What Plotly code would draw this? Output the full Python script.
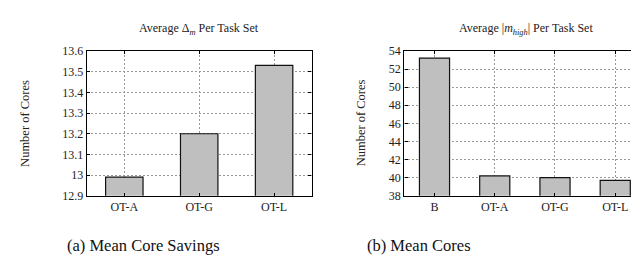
import plotly.graph_objects as go

cats_a = ["OT-A", "OT-G", "OT-L"]
vals_a = [12.99, 13.20, 13.53]
ticks_a = [12.9, 13.0, 13.1, 13.2, 13.3, 13.4, 13.5, 13.6]
ticklbl_a = ["12.9", "13", "13.1", "13.2", "13.3", "13.4", "13.5", "13.6"]

cats_b = ["B", "OT-A", "OT-G", "OT-L"]
vals_b = [53.2, 40.2, 40.0, 39.7]
ticks_b = [38, 40, 42, 44, 46, 48, 50, 52, 54]

W, H = 639, 262
def fx(px): return px / W
def fy(py): return 1 - py / H

SERIF = "Times New Roman, Liberation Serif, DejaVu Serif, serif"
tick_font = dict(family=SERIF, size=12, color="#222")
bar_style = dict(color="#bfbfbf", line=dict(color="#111", width=1.2))

fig = go.Figure()
fig.add_trace(go.Bar(x=cats_a, y=vals_a, marker=bar_style, width=0.5, xaxis="x", yaxis="y"))
fig.add_trace(go.Bar(x=cats_b, y=vals_b, marker=bar_style, width=0.5, xaxis="x2", yaxis="y2"))

grid = dict(showgrid=True, gridcolor="#999", griddash="2px,2px", gridwidth=0.8)
frame = dict(showline=True, linecolor="#000", linewidth=1.3, mirror="ticks", zeroline=False,
             ticks="inside", ticklen=3, tickcolor="#000", tickfont=tick_font)

fig.update_layout(
    width=W, height=H, margin=dict(l=0, r=0, t=0, b=0),
    font=dict(family=SERIF),
    paper_bgcolor="white", plot_bgcolor="white", showlegend=False, bargap=0.5,
    xaxis=dict(domain=[fx(79), fx(304)], anchor="y", range=[-0.5, 2.5], **grid, **frame),
    yaxis=dict(domain=[fy(191), fy(38)], anchor="x", range=[12.9, 13.6],
               tickvals=ticks_a, ticktext=ticklbl_a, **grid, **frame),
    xaxis2=dict(domain=[fx(397), 0.999], anchor="y2", range=[-0.5, 3.5], **grid, **frame),
    yaxis2=dict(domain=[fy(191), fy(38)], anchor="x2", range=[38, 54],
                tickvals=ticks_b, **grid, **frame),
)

def note(text, x, y, size, angle=0, color="#222"):
    return dict(text=text, x=fx(x), y=fy(y), xref="paper", yref="paper", textangle=angle,
                xanchor="center", yanchor="middle", showarrow=False,
                font=dict(family=SERIF, size=size, color=color))

ann = [
    note("Average Δ<sub><i>m</i></sub> Per Task Set", 191.5, 15, 12),
    note("Average |<i>m</i><sub><i>high</i></sub>| Per Task Set", 519, 15, 12),
    note("Number of Cores", 17, 114, 12.5, -90),
    note("Number of Cores", 353, 114, 12.5, -90),
    note("(a) Mean Core Savings", 136, 244, 16.5, 0, "#111"),
    note("(b) Mean Cores", 412, 244, 16.5, 0, "#111"),
]
fig.update_layout(annotations=ann)

fig.write_html("out.html")
